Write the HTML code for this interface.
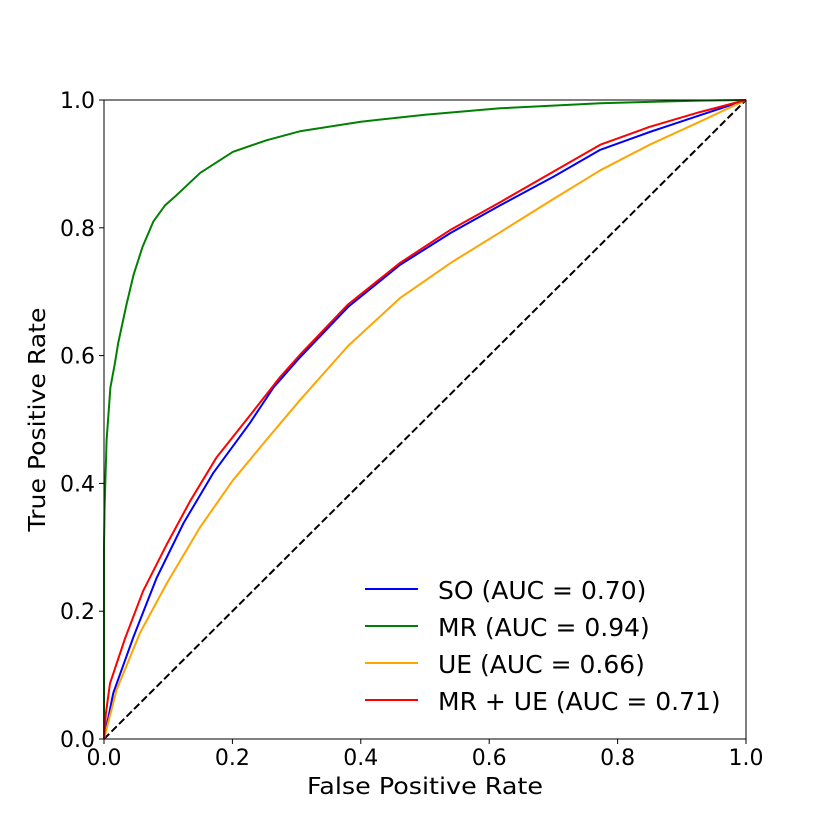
<!DOCTYPE html>
<html><head><meta charset="utf-8"><style>
body{margin:0;background:#fff}
svg text{font-family:"DejaVu Sans","Liberation Sans",sans-serif;fill:#000}
</style></head><body>
<svg id="chart" width="830" height="830" xmlns="http://www.w3.org/2000/svg">
<rect width="830" height="830" fill="#fff"/>
<g id="plot"></g>
</svg>
<script>
const soFpr =   [0,0.0145,0.046,0.082,0.124,0.170,0.227,0.264,0.305,0.38,0.461,0.54,0.617,0.70,0.773,0.85,0.928,1];
const soTpr =   [0,0.072,0.160,0.252,0.338,0.416,0.494,0.550,0.597,0.676,0.742,0.792,0.835,0.88,0.922,0.95,0.976,1];
const mrFpr =   [0,0,0.001,0.004,0.010,0.017,0.022,0.035,0.046,0.06,0.077,0.095,0.113,0.150,0.201,0.253,0.305,0.4,0.5,0.617,0.773,0.928,1];
const mrTpr =   [0,0.30,0.363,0.468,0.55,0.588,0.619,0.68,0.726,0.77,0.81,0.835,0.851,0.886,0.919,0.937,0.951,0.966,0.977,0.987,0.995,0.999,1];
const ueFpr =   [0,0.0197,0.056,0.098,0.150,0.201,0.253,0.305,0.38,0.461,0.54,0.617,0.70,0.773,0.85,0.928,1];
const ueTpr =   [0,0.077,0.166,0.244,0.332,0.405,0.468,0.530,0.615,0.690,0.745,0.793,0.845,0.890,0.93,0.966,1];
const mrueFpr = [0,0.003,0.0093,0.033,0.061,0.098,0.134,0.175,0.227,0.274,0.305,0.38,0.461,0.54,0.617,0.70,0.773,0.85,0.928,1];
const mrueTpr = [0,0.04,0.087,0.158,0.232,0.305,0.372,0.440,0.506,0.566,0.601,0.680,0.745,0.797,0.840,0.888,0.930,0.958,0.981,1];
const seriesNames = ["SO (AUC = 0.70)","MR (AUC = 0.94)","UE (AUC = 0.66)","MR + UE (AUC = 0.71)"];
const seriesColors = ["#0000ff","#008000","#ffa500","#ff0000"];
const seriesX = [soFpr, mrFpr, ueFpr, mrueFpr];
const seriesY = [soTpr, mrTpr, ueTpr, mrueTpr];
const ticks = [0,0.2,0.4,0.6,0.8,1.0];
const tickLabels = ["0.0","0.2","0.4","0.6","0.8","1.0"];

const L=104,R=746,T=100,B=739;
const xs=v=>L+v*(R-L), ys=v=>B-v*(B-T);
const NS="http://www.w3.org/2000/svg";
const g=document.getElementById('plot');
function mk(tag,attrs,parent){const e=document.createElementNS(NS,tag);for(const k in attrs)e.setAttribute(k,attrs[k]);(parent||g).appendChild(e);return e;}

const diag=mk('line',{x1:xs(0),y1:ys(0),x2:xs(1),y2:ys(1),stroke:'#000','stroke-width':2,'stroke-dasharray':'7.4,3.2'});



seriesY.forEach((arr,i)=>{
  const fx=seriesX[i];
  const d=arr.map((v,j)=>(j?'L':'M')+xs(fx[j]).toFixed(1)+','+ys(v).toFixed(1)).join(' ');
  const p=mk('path',{d:d,fill:'none',stroke:seriesColors[i],'stroke-width':2,'stroke-linejoin':'round'});
  
  
});

const frame=mk('rect',{x:L,y:T,width:R-L,height:B-T,fill:'none',stroke:'#000','stroke-width':1});



ticks.forEach((t,i)=>{
  mk('line',{x1:xs(t),y1:B,x2:xs(t),y2:B+5,stroke:'#000'});
  const tx=mk('text',{x:xs(t),y:B+26,'text-anchor':'middle','font-size':22});
  tx.textContent=tickLabels[i];
  
  
  mk('line',{x1:L-5,y1:ys(t),x2:L,y2:ys(t),stroke:'#000'});
  const ty=mk('text',{x:L-9,y:ys(t)+8,'text-anchor':'end','font-size':22});
  ty.textContent=tickLabels[i];
  
  
});

const xt=mk('text',{x:(L+R)/2,y:794,'text-anchor':'middle','font-size':23,textLength:236,lengthAdjust:'spacingAndGlyphs'});
xt.textContent='False Positive Rate';


const yt=mk('text',{x:0,y:0,'text-anchor':'middle','font-size':23,textLength:224,lengthAdjust:'spacingAndGlyphs',transform:'translate(45,'+((T+B)/2)+') rotate(-90)'});
yt.textContent='True Positive Rate';



seriesNames.forEach((n,i)=>{
  const y=589+i*37;
  const ln=mk('line',{x1:365,y1:y,x2:418,y2:y,stroke:seriesColors[i],'stroke-width':2});
  
  
  const t=mk('text',{x:438,y:y+10,'font-size':25});
  t.textContent=n;
  
  
});
</script>
</body></html>
